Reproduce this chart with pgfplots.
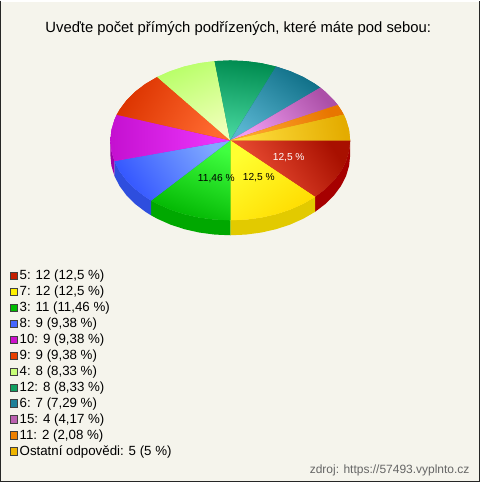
\documentclass[border=0pt]{standalone}
\usepackage{pgfplots}
\pgfplotsset{compat=1.18}
\usepackage{fontspec}
\setmainfont{Liberation Sans}
\definecolor{bgc}{HTML}{F5F4EC}
\definecolor{r0}{HTML}{A81000}\definecolor{r1}{HTML}{F4553A}
\definecolor{y0}{HTML}{FFDC00}\definecolor{y1}{HTML}{FFFF30}
\definecolor{g0}{HTML}{00B400}\definecolor{g1}{HTML}{40FF40}
\definecolor{b0}{HTML}{3355FF}\definecolor{b1}{HTML}{80AAFF}
\definecolor{m0}{HTML}{C410D0}\definecolor{m1}{HTML}{F038FF}
\definecolor{o0}{HTML}{DC3400}\definecolor{o1}{HTML}{FF6A30}
\definecolor{l0}{HTML}{B8FF68}\definecolor{l1}{HTML}{F0FFB8}
\definecolor{t0}{HTML}{008C50}\definecolor{t1}{HTML}{48D8A0}
\definecolor{c0}{HTML}{107088}\definecolor{c1}{HTML}{58B4D0}
\definecolor{p0}{HTML}{AC50A8}\definecolor{p1}{HTML}{F09CF0}
\definecolor{a0}{HTML}{E87600}\definecolor{a1}{HTML}{FFA830}
\definecolor{u0}{HTML}{E4AC00}\definecolor{u1}{HTML}{FFE040}
\definecolor{s5}{HTML}{C41E00}\definecolor{s7}{HTML}{FFF000}\definecolor{s3}{HTML}{00BB00}
\definecolor{s8}{HTML}{4466FF}\definecolor{s10}{HTML}{CC11CC}\definecolor{s9}{HTML}{E84000}
\definecolor{s4}{HTML}{C8FF78}\definecolor{s12}{HTML}{109F60}\definecolor{s6}{HTML}{1F8098}
\definecolor{s15}{HTML}{BB60B0}\definecolor{s11}{HTML}{EE8000}\definecolor{sO}{HTML}{EEB400}
\definecolor{wr}{HTML}{A60000}\definecolor{wy}{HTML}{E2CA00}
\definecolor{wg}{HTML}{00A800}\definecolor{wb}{HTML}{2E4EDE}
\definecolor{wm}{HTML}{A000AA}
\pgfplotsset{
  wedge/.style n args={4}{fill=#1, draw=none, shading=axis, top color=#1, bottom color=#2, shading angle=#3,
    legend image code/.code={\node[fill=#4, draw=black!75, line width=0.8pt, inner sep=0pt, minimum size=7.4pt, text height=0pt, text depth=0pt, anchor=west] at (0pt,0pt) {};\path (9pt,0pt);}},
  wall/.style={fill=#1, draw=none, forget plot},
}
\begin{document}
\begin{tikzpicture}
\begin{axis}[
  scale only axis, width=480pt, height=482pt,
  xmin=0, xmax=480, ymin=0, ymax=482, y dir=reverse,
  axis lines=none, clip=false,
  legend cell align=left,
  legend style={at={(axis cs:9.3,269)}, anchor=north west, draw=none, fill=none,
    font=\fontsize{13.3}{15}\selectfont, inner sep=0pt, outer sep=0pt,
    row sep=3pt,
    nodes={inner sep=0.5pt, anchor=west, text height=9.6pt, text depth=2.4pt}},
]
\fill[bgc] (axis cs:0,0) rectangle (axis cs:480,482);
% side walls
\addplot[wall=wr] coordinates {(350,140)(348.97,150.44)(345.91,160.71)(340.87,170.61)(333.92,180)(325.20,188.70)(314.85,196.57)(314.85,211.57)(325.20,203.70)(333.92,195)(340.87,185.61)(345.91,175.71)(348.97,165.44)(350,155)} --cycle;
\addplot[wall=wy] coordinates {(314.85,196.57)(303.05,203.47)(290,209.28)(275.92,213.91)(261.06,217.27)(245.66,219.32)(230,220)(230,235)(245.66,234.32)(261.06,232.27)(275.92,228.91)(290,224.28)(303.05,218.47)(314.85,211.57)} --cycle;
\addplot[wall=wg] coordinates {(230,220)(214.34,219.32)(198.94,217.27)(184.08,213.91)(170,209.28)(156.95,203.47)(150.88,200.15)(150.88,215.15)(156.95,218.47)(170,224.28)(184.08,228.91)(198.94,232.27)(214.34,234.32)(230,235)} --cycle;
\addplot[wall=wb] coordinates {(150.88,200.15)(145.15,196.57)(134.80,188.70)(126.08,180)(119.13,170.61)(114.09,160.71)(114.09,175.71)(119.13,185.61)(126.08,195)(134.80,203.70)(145.15,211.57)(150.88,215.15)} --cycle;
\addplot[wall=wm] coordinates {(114.09,160.71)(111.03,150.44)(110,140)(110,155)(111.03,165.44)(114.09,175.71)} --cycle;
% top surface, one wedge per answer
\addplot[wedge={r0}{r1}{-57}{s5}] coordinates {(230,140)(350,140)(348.97,150.44)(345.91,160.71)(340.87,170.61)(333.92,180)(325.20,188.70)(314.85,196.57)} --cycle;
\addlegendentry{5: 12 (12,5 \%)}
\addplot[wedge={y0}{y1}{-142}{s7}] coordinates {(230,140)(314.85,196.57)(303.05,203.47)(290,209.28)(275.92,213.91)(261.06,217.27)(245.66,219.32)(230,220)} --cycle;
\addlegendentry{7: 12 (12,5 \%)}
\addplot[wedge={g0}{g1}{-200}{s3}] coordinates {(230,140)(230,220)(214.34,219.32)(198.94,217.27)(184.08,213.91)(170,209.28)(156.95,203.47)(150.88,200.15)} --cycle;
\addlegendentry{3: 11 (11,46 \%)}
\addplot[wedge={b0}{b1}{-235}{s8}] coordinates {(230,140)(150.88,200.15)(145.15,196.57)(134.80,188.70)(126.08,180)(119.13,170.61)(114.09,160.71)} --cycle;
\addlegendentry{8: 9 (9,38 \%)}
\addplot[wedge={m0}{m1}{90}{s10}] coordinates {(230,140)(114.09,160.71)(111.03,150.44)(110,140)(111.03,129.56)(114.09,119.29)(116.37,114.28)} --cycle;
\addlegendentry{10: 9 (9,38 \%)}
\addplot[wedge={o0}{o1}{60}{s9}] coordinates {(230,140)(116.37,114.28)(119.13,109.39)(126.08,100)(134.80,91.30)(145.15,83.43)(156.95,76.53)} --cycle;
\addlegendentry{9: 9 (9,38 \%)}
\addplot[wedge={l0}{l1}{25}{s4}] coordinates {(230,140)(156.95,76.53)(170,70.72)(184.08,66.09)(198.94,62.73)(214.34,60.68)} --cycle;
\addlegendentry{4: 8 (8,33 \%)}
\addplot[wedge={t0}{t1}{-8}{s12}] coordinates {(230,140)(214.34,60.68)(230,60)(245.66,60.68)(261.06,62.73)(275.92,66.09)} --cycle;
\addlegendentry{12: 8 (8,33 \%)}
\addplot[wedge={c0}{c1}{-35}{s6}] coordinates {(230,140)(275.92,66.09)(290,70.72)(303.05,76.53)(314.85,83.43)(320.22,87.25)} --cycle;
\addlegendentry{6: 7 (7,29 \%)}
\addplot[wedge={p0}{p1}{-50}{s15}] coordinates {(230,140)(320.22,87.25)(325.20,91.30)(333.92,100)(337.62,104.62)} --cycle;
\addlegendentry{15: 4 (4,17 \%)}
\addplot[wedge={a0}{a1}{-60}{s11}] coordinates {(230,140)(337.62,104.62)(340.87,109.39)(343.63,114.28)} --cycle;
\addlegendentry{11: 2 (2,08 \%)}
\addplot[wedge={u0}{u1}{-80}{sO}] coordinates {(230,140)(343.63,114.28)(345.91,119.29)(348.97,129.56)(350,140)} --cycle;
\addlegendentry{Ostatní odpovědi: 5 (5 \%)}
% labels
\node[white, font=\fontsize{10.2}{12}\selectfont] at (axis cs:288.5,157.5) {12,5 \%};
\node[black, font=\fontsize{10.2}{12}\selectfont] at (axis cs:258.5,177.5) {12,5 \%};
\node[black, font=\fontsize{10.2}{12}\selectfont] at (axis cs:216,178) {11,46 \%};
\node[font=\fontsize{14.84}{16}\selectfont] at (axis cs:238,28) {Uveďte počet přímých podřízených, které máte pod sebou:};
\node[anchor=east, text=black!60, font=\fontsize{12}{13}\selectfont] at (axis cs:473,470) {zdroj: https://57493.vyplnto.cz};
% frame
\draw[white, line width=1pt] (axis cs:0,0.5) -- (axis cs:480,0.5);
\draw[black!85, line width=1pt] (axis cs:0.5,0) -- (axis cs:0.5,481.5) -- (axis cs:479.5,481.5) -- (axis cs:479.5,0);
\end{axis}
\end{tikzpicture}
\end{document}
